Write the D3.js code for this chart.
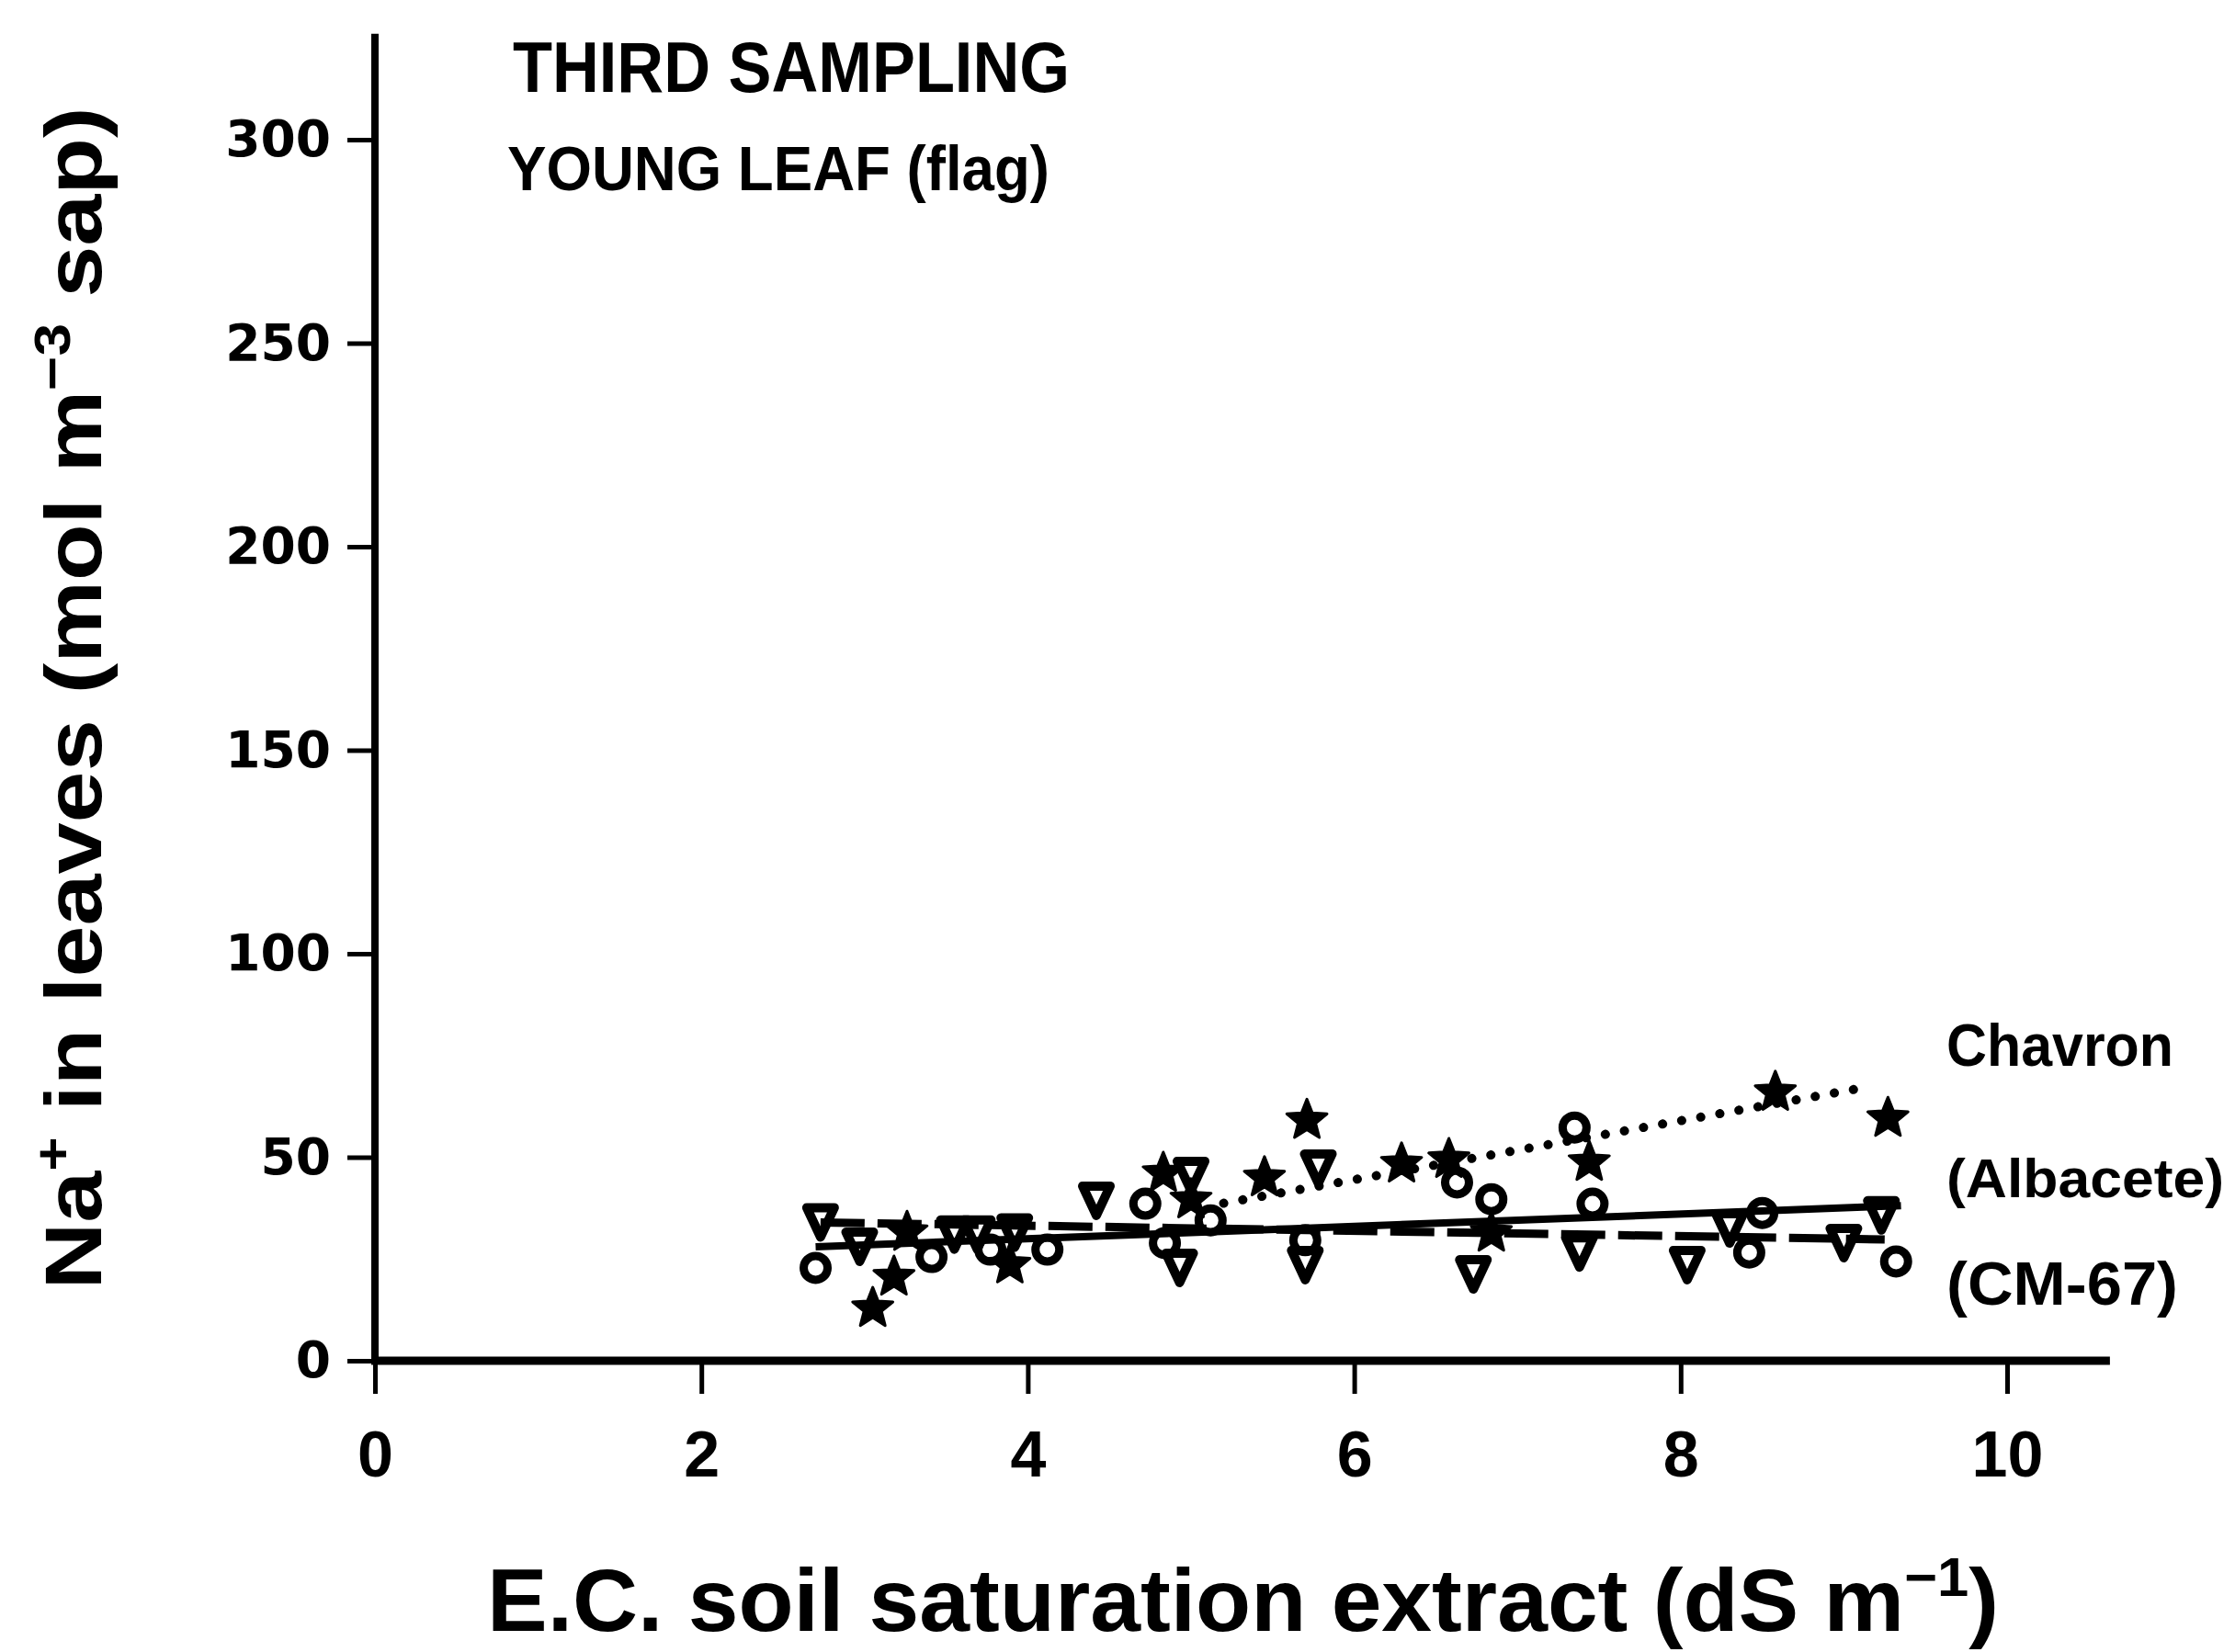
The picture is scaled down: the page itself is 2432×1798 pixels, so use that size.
<!DOCTYPE html>
<html>
<head>
<meta charset="utf-8">
<script src="https://cdn.jsdelivr.net/npm/d3@7"></script>
<style>
  html, body { margin: 0; padding: 0; background: #fff; }
  svg { display: block; }
  text { fill: #000; }
</style>
</head>
<body>
<script>
// Na+ concentration in the young (flag) leaf vs. soil salinity, third sampling
const xTicks = [0, 2, 4, 6, 8, 10];
const yTicks = [0, 50, 100, 150, 200, 250, 300];

// Chavron (stars)
const chavronEC = [3.05, 3.18, 3.26, 3.89, 4.83, 5.00, 5.45, 5.71, 6.29, 6.58, 6.84, 7.44, 8.58, 9.27];
const chavronNa = [13.3, 21.0, 32.0, 24.0, 46.5, 40.0, 45.4, 59.5, 48.8, 49.9, 31.8, 49.2, 66.4, 60.0];

// Albacete (open circles)
const albaceteEC = [2.70, 3.41, 3.77, 4.12, 4.72, 4.84, 5.12, 5.70, 6.63, 6.84, 7.35, 7.46, 8.42, 8.50, 9.32];
const albaceteNa = [22.8, 25.5, 27.3, 27.3, 38.6, 28.9, 34.5, 29.6, 43.8, 39.7, 57.3, 38.6, 26.6, 36.3, 24.4];

// CM-67 (open inverted triangles)
const cm67EC = [2.73, 2.97, 3.55, 3.69, 3.92, 4.42, 4.93, 5.00, 5.70, 5.78, 6.73, 7.38, 8.04, 8.30, 9.00, 9.23];
const cm67Na = [34.0, 28.0, 31.0, 31.0, 31.5, 39.3, 22.8, 45.4, 23.5, 47.2, 21.2, 26.6, 23.5, 32.5, 28.9, 35.7];

// fitted lines (end points)
const chavronFitEC = [5.20, 9.15];
const chavronFitNa = [38.7, 67.3];
const albaceteFitEC = [2.70, 9.35];
const albaceteFitNa = [28.0, 38.1];
const cm67FitEC = [2.73, 9.25];
const cm67FitNa = [34.0, 29.8];

const seriesNames = ["Chavron", "(Albacete)", "(CM-67)"];

const W = 2432, H = 1798;
const svg = d3.select("body").append("svg")
  .attr("width", W).attr("height", H)
  .attr("viewBox", `0 0 ${W} ${H}`);
svg.append("rect").attr("width", W).attr("height", H).attr("fill", "#fff");

const x = d3.scaleLinear().domain([0, 10]).range([408, 2184]);
const y = d3.scaleLinear().domain([0, 300]).range([1481, 152]);

// axes
const yAxis = d3.axisLeft(y).tickValues(yTicks).tickSize(30).tickPadding(18).tickSizeOuter(0);
const gy = svg.append("g").attr("transform", `translate(${x(0)},0)`).call(yAxis);
gy.select(".domain").remove();
gy.selectAll(".tick line").attr("stroke", "#000").attr("stroke-width", 5);
gy.selectAll(".tick text")
  .attr("font-family", "DejaVu Sans, sans-serif")
  .attr("font-weight", "bold")
  .attr("font-size", 55)
  .attr("fill", "#000");

const xAxis = d3.axisBottom(x).tickValues(xTicks).tickSize(36).tickPadding(40).tickSizeOuter(0);
const gx = svg.append("g").attr("transform", `translate(0,${y(0)})`).call(xAxis);
gx.select(".domain").remove();
gx.selectAll(".tick line").attr("stroke", "#000").attr("stroke-width", 5);
gx.selectAll(".tick text")
  .attr("font-family", "Liberation Sans, Arial, sans-serif")
  .attr("font-weight", "bold")
  .attr("font-size", 70)
  .attr("fill", "#000");

// axis lines
svg.append("line")
  .attr("x1", x(0)).attr("x2", x(0))
  .attr("y1", y(326)).attr("y2", y(0) + 4)
  .attr("stroke", "#000").attr("stroke-width", 8);
svg.append("line")
  .attr("x1", x(0) - 4).attr("x2", x(10.63))
  .attr("y1", y(0)).attr("y2", y(0))
  .attr("stroke", "#000").attr("stroke-width", 9);

// fitted lines
const line = d3.line().x(d => x(d[0])).y(d => y(d[1]));
const zipPts = (a, b) => a.map((v, i) => [v, b[i]]);

svg.append("path").datum(zipPts(albaceteFitEC, albaceteFitNa))
  .attr("d", line).attr("fill", "none").attr("stroke", "#000").attr("stroke-width", 8);
svg.append("path").datum(zipPts(cm67FitEC, cm67FitNa))
  .attr("d", line).attr("fill", "none").attr("stroke", "#000").attr("stroke-width", 9)
  .attr("stroke-dasharray", "48 14");
svg.append("path").datum(zipPts(chavronFitEC, chavronFitNa))
  .attr("d", line).attr("fill", "none").attr("stroke", "#000").attr("stroke-width", 10)
  .attr("stroke-linecap", "round").attr("stroke-dasharray", "0.1 21");

// marker shapes
function starPath(R, r) {
  const pts = [];
  for (let i = 0; i < 10; i++) {
    const a = -Math.PI / 2 + i * Math.PI / 5;
    const rad = i % 2 === 0 ? R : r;
    pts.push([rad * Math.cos(a), rad * Math.sin(a)]);
  }
  return "M" + pts.map(p => p[0].toFixed(2) + "," + p[1].toFixed(2)).join("L") + "Z";
}
const triW = 30, triH = 32;
const triPath = `M${-triW / 2},${-triH / 2}L${triW / 2},${-triH / 2}L0,${triH / 2}Z`;

svg.append("g").selectAll("circle")
  .data(zipPts(albaceteEC, albaceteNa)).join("circle")
  .attr("cx", d => x(d[0])).attr("cy", d => y(d[1])).attr("r", 13)
  .attr("fill", "none").attr("stroke", "#000").attr("stroke-width", 9);

svg.append("g").selectAll("path")
  .data(zipPts(cm67EC, cm67Na)).join("path")
  .attr("d", triPath)
  .attr("transform", d => `translate(${x(d[0])},${y(d[1])})`)
  .attr("fill", "none").attr("stroke", "#000").attr("stroke-width", 10)
  .attr("stroke-linejoin", "round");

svg.append("g").selectAll("path")
  .data(zipPts(chavronEC, chavronNa)).join("path")
  .attr("d", starPath(23, 10))
  .attr("transform", d => `translate(${x(d[0])},${y(d[1]) + 2})`)
  .attr("fill", "#000").attr("stroke", "#000").attr("stroke-width", 3)
  .attr("stroke-linejoin", "round");

// series labels at the right end of the fitted lines
const labelFont = "Liberation Sans, Arial, sans-serif";
const labelSpecs = [
  { v: 72.5, len: 247, size: 64 },
  { v: 40.2, len: 302, size: 60 },
  { v: 13.8, len: 252, size: 66 }
];
svg.append("g").selectAll("text")
  .data(seriesNames).join("text")
  .attr("x", 2118)
  .attr("y", (d, i) => y(labelSpecs[i].v))
  .attr("font-family", labelFont).attr("font-weight", "bold")
  .attr("font-size", (d, i) => labelSpecs[i].size)
  .attr("textLength", (d, i) => labelSpecs[i].len)
  .attr("lengthAdjust", "spacingAndGlyphs")
  .text(d => d);

// panel annotations
svg.append("text").attr("x", 558).attr("y", 100)
  .attr("font-family", labelFont).attr("font-weight", "bold").attr("font-size", 78)
  .attr("textLength", 606).attr("lengthAdjust", "spacingAndGlyphs")
  .text("THIRD SAMPLING");
svg.append("text").attr("x", 552).attr("y", 207)
  .attr("font-family", labelFont).attr("font-weight", "bold").attr("font-size", 68)
  .attr("textLength", 590).attr("lengthAdjust", "spacingAndGlyphs")
  .text("YOUNG LEAF (flag)");

// y-axis title
const yt = svg.append("text")
  .attr("transform", "translate(110,760) rotate(-90)")
  .attr("text-anchor", "middle")
  .attr("font-family", labelFont).attr("font-weight", "bold").attr("font-size", 88)
  .attr("textLength", 1287).attr("lengthAdjust", "spacingAndGlyphs");
yt.append("tspan").text("Na");
yt.append("tspan").attr("dy", -34).attr("font-size", 56).text("+");
yt.append("tspan").attr("dy", 34).text(" in leaves (mol m");
yt.append("tspan").attr("dy", -34).attr("font-size", 56).text("\u22123");
yt.append("tspan").attr("dy", 34).text(" sap)");

// x-axis title
const xt = svg.append("text")
  .attr("x", 530).attr("y", 1775)
  .attr("font-family", labelFont).attr("font-weight", "bold").attr("font-size", 96)
  .attr("textLength", 1645).attr("lengthAdjust", "spacingAndGlyphs");
xt.append("tspan").text("E.C. soil saturation extract (dS m");
xt.append("tspan").attr("dy", -38).attr("font-size", 60).text("\u22121");
xt.append("tspan").attr("dy", 38).text(")");
</script>
</body>
</html>
